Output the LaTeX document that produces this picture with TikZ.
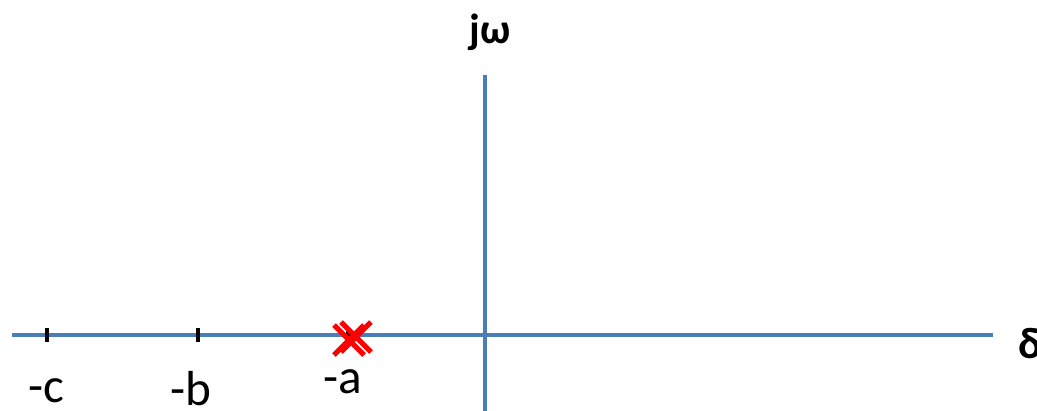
\documentclass[tikz,border=0pt]{standalone}
\usepackage{fontspec}
\setmainfont{Carlito}
\begin{document}
\begin{tikzpicture}[x=0.02cm,y=-0.02cm,
  axis/.style={draw={rgb,255:red,74;green,126;blue,187},line width=2.2pt},
  tick/.style={draw=black,line width=2.8pt},
  pole/.style={draw=red,line width=3pt},
  lbl/.style={font=\fontsize{28}{32}\selectfont,inner sep=0pt}]
\useasboundingbox (0,0) rectangle (1037,410);
\clip (0,0) rectangle (1037,410);
\coordinate (hl) at (12,335);
\coordinate (hr) at (993,335);
\coordinate (vt) at (485,75);
\coordinate (vb) at (485,412);
\draw[axis] (hl) -- (hr);
\draw[axis] (vt) -- (vb);
\coordinate (tc1) at (47,328); \coordinate (tc2) at (47,342);
\coordinate (tb1) at (198,328); \coordinate (tb2) at (198,342);
\coordinate (ta1) at (348,328); \coordinate (ta2) at (348,342);
\draw[tick] (tc1) -- (tc2);
\draw[tick] (tb1) -- (tb2);
\draw[tick] (ta1) -- (ta2);
\coordinate (p1a) at (334,325); \coordinate (p1b) at (364,355);
\coordinate (p1c) at (364,325); \coordinate (p1d) at (334,355);
\coordinate (p2a) at (341,322); \coordinate (p2b) at (371,352);
\coordinate (p2c) at (371,322); \coordinate (p2d) at (341,352);
\draw[pole] (p1a) -- (p1b) (p1c) -- (p1d);
\draw[pole] (p2a) -- (p2b) (p2c) -- (p2d);
\node[lbl] (lc) at (46,391) {-c};
\node[lbl] (lb) at (191,389) {-b};
\node[lbl] (la) at (343,382) {-a};
\node[lbl,font=\fontsize{24}{28}\selectfont\bfseries] (jw) at (490,32) {jω};
\node[lbl,font=\fontsize{25}{28}\selectfont\bfseries,anchor=west] (d) at (1018,344) {δ};
\end{tikzpicture}
\end{document}
